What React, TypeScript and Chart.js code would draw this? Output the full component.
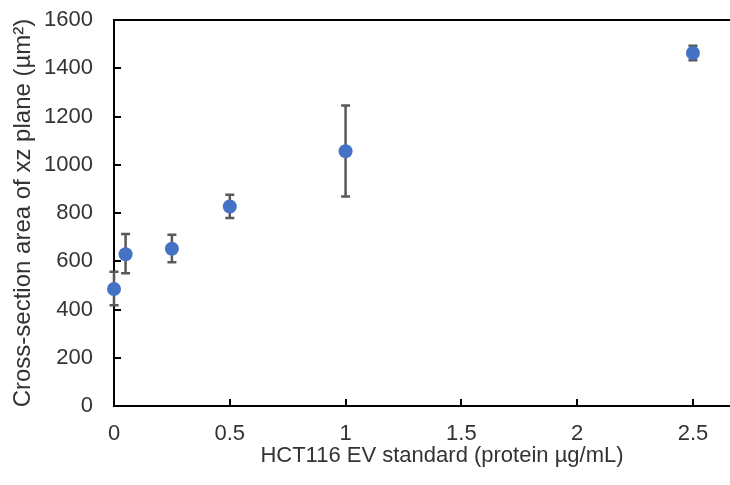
import React, { useEffect, useRef } from "react";
import { Chart, registerables } from "chart.js";

Chart.register(...registerables);

const xValues = [0, 0.05, 0.25, 0.5, 1, 2.5];
const yValues = [485, 629, 652, 827, 1056, 1463];
const yErrLow = [418, 550, 596, 779, 868, 1433];
const yErrHigh = [556, 713, 710, 876, 1246, 1493];
const xTickValues = [0, 0.5, 1, 1.5, 2, 2.5];
const yTickValues = [0, 200, 400, 600, 800, 1000, 1200, 1400, 1600];
const xTitle = "HCT116 EV standard (protein µg/mL)";
const yTitle = "Cross-section area of xz plane (µm²)";

const FONT = "'Liberation Sans', Arial, sans-serif";
const TEXT = "#333333";

const errorBarPlugin = {
  id: "errorBars",
  beforeDatasetsDraw(chart: any) {
    const ctx = chart.ctx;
    const xs = chart.scales.x;
    const ys = chart.scales.y;
    ctx.save();
    ctx.strokeStyle = "#595959";
    ctx.lineWidth = 2.5;
    for (let i = 0; i < xValues.length; i++) {
      const px = xs.getPixelForValue(xValues[i]);
      const lo = ys.getPixelForValue(yErrLow[i]);
      const hi = ys.getPixelForValue(yErrHigh[i]);
      ctx.beginPath();
      ctx.moveTo(px, lo);
      ctx.lineTo(px, hi);
      ctx.moveTo(px - 4.5, lo);
      ctx.lineTo(px + 4.5, lo);
      ctx.moveTo(px - 4.5, hi);
      ctx.lineTo(px + 4.5, hi);
      ctx.stroke();
    }
    ctx.restore();
  },
};

const frameTicksPlugin = {
  id: "frameTicks",
  afterDraw(chart: any) {
    const ctx = chart.ctx;
    const { left, right, top, bottom } = chart.chartArea;
    const xs = chart.scales.x;
    const ys = chart.scales.y;
    ctx.save();
    ctx.strokeStyle = "#000000";
    ctx.lineWidth = 2;
    ctx.beginPath();
    ctx.moveTo(left - 1, top);
    ctx.lineTo(right, top);
    for (const v of yTickValues) {
      const py = Math.round(ys.getPixelForValue(v));
      ctx.moveTo(left, py);
      ctx.lineTo(left + 7, py);
    }
    for (const v of xTickValues) {
      const px = Math.round(xs.getPixelForValue(v));
      ctx.moveTo(px, bottom);
      ctx.lineTo(px, bottom - 7);
    }
    ctx.stroke();
    // x-axis title, centred on the (cropped) plot area as in the reference
    ctx.fillStyle = TEXT;
    ctx.font = `22px ${FONT}`;
    ctx.textAlign = "center";
    ctx.textBaseline = "middle";
    ctx.fillText(xTitle, left + (right - left) * 0.5 + 20, bottom + 50);
    ctx.restore();
  },
};

export default function App() {
  const ref = useRef<HTMLCanvasElement | null>(null);

  useEffect(() => {
    document.body.style.margin = "0";
    const canvas = ref.current;
    if (!canvas) return;
    const chart = new Chart(canvas, {
      type: "scatter",
      data: {
        datasets: [
          {
            data: xValues.map((x, i) => ({ x, y: yValues[i] })),
            backgroundColor: "#4472C4",
            borderColor: "#4472C4",
            pointRadius: 7,
            pointHoverRadius: 7,
            borderWidth: 0,
            clip: false,
          },
        ],
      },
      options: {
        responsive: false,
        animation: false,
        devicePixelRatio: 1,
        layout: { autoPadding: false, padding: { top: 20, right: 0, left: 0, bottom: 0 } },
        plugins: {
          legend: { display: false },
          tooltip: { enabled: false },
        },
        scales: {
          x: {
            type: "linear",
            min: 0,
            max: 2.66,
            afterBuildTicks: (scale: any) => {
              scale.ticks = xTickValues.map((v) => ({ value: v }));
            },
            afterFit: (scale: any) => {
              scale.height = 79;
              scale.paddingLeft = 0;
              scale.paddingRight = 0;
            },
            grid: { display: false, drawTicks: false },
            border: { display: true, color: "#000000", width: 2 },
            ticks: {
              padding: 15,
              color: TEXT,
              font: { family: FONT, size: 22 },
              maxRotation: 0,
              callback: (v: any) => String(v),
            },
            title: { display: false, text: xTitle },
          },
          y: {
            type: "linear",
            min: 0,
            max: 1600,
            afterBuildTicks: (scale: any) => {
              scale.ticks = yTickValues.map((v) => ({ value: v }));
            },
            afterFit: (scale: any) => {
              scale.width = 114;
              scale.paddingTop = 0;
              scale.paddingBottom = 0;
            },
            grid: { display: false, drawTicks: false },
            border: { display: true, color: "#000000", width: 2 },
            ticks: {
              padding: 21,
              color: TEXT,
              font: { family: FONT, size: 22 },
              callback: (v: any) => String(v),
            },
            title: {
              display: true,
              text: yTitle,
              color: TEXT,
              font: { family: FONT, size: 24 },
              padding: { top: 9, bottom: 0 },
            },
          },
        },
      },
      plugins: [errorBarPlugin, frameTicksPlugin],
    });
    return () => chart.destroy();
  }, []);

  return (
    <div style={{ position: "fixed", left: 0, top: 0, width: 730, height: 485, background: "#ffffff" }}>
      <canvas ref={ref} width={730} height={485} style={{ display: "block" }} />
    </div>
  );
}
